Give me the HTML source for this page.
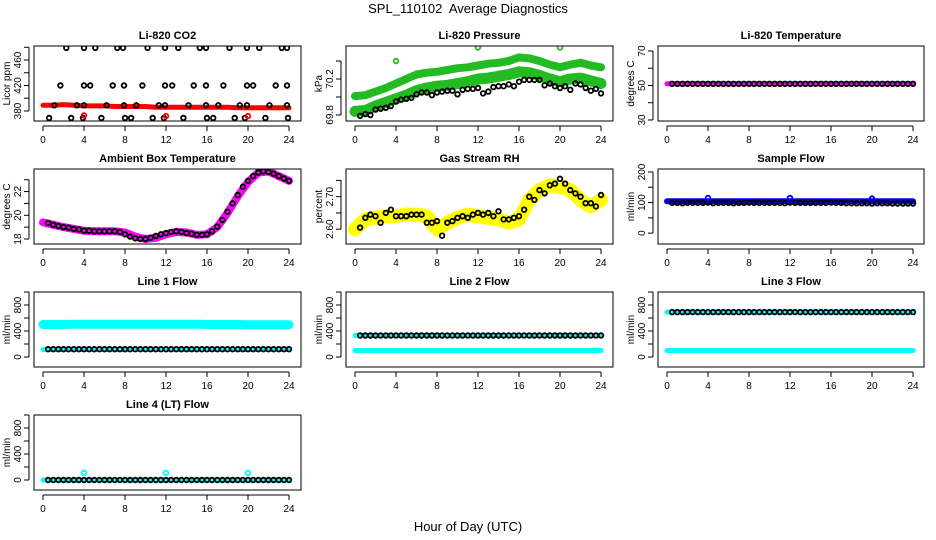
<!DOCTYPE html>
<html><head><meta charset="utf-8">
<style>
body{margin:0;background:#fff;}
svg{display:block;font-family:"Liberation Sans",sans-serif;}
</style></head>
<body>
<svg id="chart" width="936" height="540" viewBox="0 0 936 540">
<rect width="936" height="540" fill="#fff"/>
<text x="468" y="13" text-anchor="middle" font-size="13" xml:space="preserve">SPL_110102  Average Diagnostics</text>
<text x="468" y="531" text-anchor="middle" font-size="13">Hour of Day (UTC)</text>
</svg>
<script>
// shared category arrays
const hours = [0,1,2,3,4,5,6,7,8,9,10,11,12,13,14,15,16,17,18,19,20,21,22,23,24];
const halfHours = [0.5,1,1.5,2,2.5,3,3.5,4,4.5,5,5.5,6,6.5,7,7.5,8,8.5,9,9.5,10,10.5,11,11.5,12,12.5,13,13.5,14,14.5,15,15.5,16,16.5,17,17.5,18,18.5,19,19.5,20,20.5,21,21.5,22,22.5,23,23.5,24];
const xTicks = [0,4,8,12,16,20,24];

// CO2
const co2Band = [389,389,390,389,388,388,388,387,387,387,387,386,386,386,386,386,386,386,386,385,385,385,385,385,385];
const co2BlackT = [2.27,4,5.1,7.25,7.8,10.2,11.9,13.2,15.3,15.9,18.2,19.9,21.1,23.3,23.8,1.7,4,4.6,6.8,7.9,9.7,11.9,12.6,14.7,15.9,17.6,19.9,20.5,22.7,23.8,1.1,3.3,4,6.2,7.9,9.1,11.3,11.9,14.2,15.9,17.1,19.2,19.9,22.1,23.8,0.6,2.75,3.9,5.7,8,8.6,10.7,11.8,13.7,16,16.6,18.7,19.7,21.7,23.9];
const co2BlackV = [479,479,479,479,479,479,479,479,479,479,479,479,479,479,479,420,420,420,420,420,420,420,420,420,420,420,420,420,420,420,389,389,389,389,389,389,389,389,389,389,389,389,389,389,389,369,369,369,369,369,369,369,369,369,369,369,369,369,369,369];
const co2RedT = [4,12,20];
const co2RedV = [373,372,372];

// Pressure
const presUpper = [70.01,70.02,70.06,70.1,70.15,70.2,70.25,70.27,70.28,70.3,70.32,70.33,70.35,70.37,70.38,70.4,70.44,70.43,70.4,70.36,70.33,70.36,70.38,70.35,70.33];
const presLower = [69.84,69.85,69.9,69.94,69.98,70.02,70.07,70.1,70.12,70.13,70.15,70.17,70.2,70.21,70.23,70.25,70.28,70.27,70.24,70.2,70.17,70.2,70.21,70.18,70.15];
const presBlack = [69.79,69.81,69.8,69.86,69.87,69.88,69.9,69.95,69.97,69.98,69.99,70.03,70.05,70.05,70.02,70.05,70.06,70.07,70.07,70.03,70.08,70.09,70.09,70.1,70.04,70.06,70.11,70.12,70.12,70.14,70.12,70.17,70.19,70.19,70.19,70.19,70.13,70.15,70.12,70.1,70.12,70.08,70.15,70.14,70.1,70.07,70.09,70.04];
const presGreenT = [4,12,20];
const presGreenV = [70.4,70.55,70.55];

// Li-820 temperature
const tempBand = [51,51,51,51,51,51,51,51,51,51,51,51,51,51,51,51,51,51,51,51,51,51,51,51,51];
const tempBlack = [51,51,51,51,51,51,51,51,51,51,51,51,51,51,51,51,51,51,51,51,51,51,51,51,51,51,51,51,51,51,51,51,51,51,51,51,51,51,51,51,51,51,51,51,51,51,51,51];

// Ambient box temperature
const ambBand = [19.4,19.2,19.0,18.85,18.7,18.65,18.65,18.65,18.55,18.2,18.0,18.1,18.4,18.6,18.55,18.35,18.4,19.0,20.2,21.6,22.8,23.6,23.7,23.3,22.9];
const ambBlack = [19.35,19.2,19.1,19.0,18.95,18.85,18.8,18.7,18.7,18.65,18.65,18.65,18.65,18.65,18.6,18.4,18.2,18.05,18.0,18.0,18.1,18.25,18.4,18.5,18.6,18.65,18.6,18.5,18.45,18.35,18.35,18.4,18.65,19.05,19.6,20.3,21.0,21.7,22.4,22.9,23.3,23.6,23.7,23.65,23.5,23.3,23.1,22.9];

// Gas stream RH
const rhBand = [2.6,2.63,2.635,2.64,2.64,2.645,2.645,2.64,2.6,2.62,2.635,2.645,2.64,2.635,2.63,2.62,2.63,2.69,2.72,2.735,2.73,2.72,2.69,2.67,2.69];
const rhBlack = [2.605,2.635,2.645,2.64,2.62,2.65,2.66,2.64,2.64,2.64,2.645,2.645,2.645,2.62,2.62,2.625,2.58,2.62,2.625,2.635,2.64,2.635,2.645,2.65,2.645,2.65,2.64,2.655,2.63,2.63,2.635,2.64,2.66,2.7,2.69,2.72,2.71,2.735,2.74,2.755,2.74,2.72,2.71,2.7,2.68,2.68,2.67,2.705];

// Sample flow
const sampBand = [104,104,104,104,104,104,104,104,104,104,104,104,104,104,104,104,104,104,104,104,104,104,104,104,104];
const sampBlack = [99,99,98,99,99,99,99,100,98,99,99,99,98,99,99,100,99,99,99,99,99,99,98,100,99,99,99,99,99,99,99,100,99,99,98,98,98,98,98,97,98,98,98,97,97,97,97,97];
const sampSpikeT = [4,12,20];
const sampSpikeV = [115,115,113];

// Line flows
const l1Hi = [500,500,500,505,505,505,505,505,505,505,505,505,505,505,505,505,500,500,500,500,495,495,495,495,495];
const l1Lo = [115,115,115,115,115,115,115,115,115,115,115,115,115,115,115,115,115,115,115,115,115,115,115,115,115];
const l1Black = [120,120,120,120,120,120,120,120,120,120,120,120,120,120,120,120,120,120,120,120,120,120,120,120,120,120,120,120,120,120,120,120,120,120,120,120,120,120,120,120,120,120,120,120,120,120,120,120];
const l2Hi = [330,330,330,330,330,330,330,330,330,330,330,330,330,330,330,330,330,330,330,330,330,330,330,330,330];
const l2Lo = [100,100,100,100,100,100,100,100,100,100,100,100,100,100,100,100,100,100,100,100,100,100,100,100,100];
const l2Black = [330,330,330,330,330,330,330,330,330,330,330,330,330,330,330,330,330,330,330,330,330,330,330,330,330,330,330,330,330,330,330,330,330,330,330,330,330,330,330,330,330,330,330,330,330,330,330,330];
const l3Hi = [690,690,690,690,690,690,690,690,690,690,690,690,690,690,690,690,690,690,690,690,690,690,690,690,690];
const l3Lo = [100,100,100,100,100,100,100,100,100,100,100,100,100,100,100,100,100,100,100,100,100,100,100,100,100];
const l3Black = [690,690,690,690,690,690,690,690,690,690,690,690,690,690,690,690,690,690,690,690,690,690,690,690,690,690,690,690,690,690,690,690,690,690,690,690,690,690,690,690,690,690,690,690,690,690,690,690];
const l4Band = [0,0,0,0,0,0,0,0,0,0,0,0,0,0,0,0,0,0,0,0,0,0,0,0,0];
const l4Black = [0,0,0,0,0,0,0,0,0,0,0,0,0,0,0,0,0,0,0,0,0,0,0,0,0,0,0,0,0,0,0,0,0,0,0,0,0,0,0,0,0,0,0,0,0,0,0,0];
const l4SpikeT = [4,12,20];
const l4SpikeV = [110,110,110];

const svg = document.getElementById('chart');
const NS = 'http://www.w3.org/2000/svg';
function mk(tag, attrs, parent){
  const e = document.createElementNS(NS, tag);
  for (const k in attrs) e.setAttribute(k, attrs[k]);
  (parent||svg).appendChild(e);
  return e;
}
const colBox = [[34,301],[346,613],[658,924]];
const colX0 = [43,355,667];
const rowY = [46,169,292,415];
const BH = 75;

function panel(cfg){
  const [bx0,bx1] = colBox[cfg.col];
  const by0 = rowY[cfg.row], by1 = by0 + BH;
  const g = mk('g', {});
  
  
  const xs = t => colX0[cfg.col] + t * 246 / 24;
  const ys = v => by1 - (v - cfg.ymin) / (cfg.ymax - cfg.ymin) * BH;
  const clip = 'clip-' + cfg.name;
  const cp = mk('clipPath', {id: clip}, g);
  mk('rect', {x: bx0, y: by0, width: bx1 - bx0, height: BH}, cp);
  const marks = mk('g', {'clip-path': 'url(#' + clip + ')'}, g);
  (cfg.bands||[]).forEach(b => {
    const pts = b.t.map((t,i) => xs(t).toFixed(1) + ',' + ys(b.v[i]).toFixed(1)).join(' ');
    const pl = mk('polyline', {points: pts, fill: 'none', stroke: b.color, 'stroke-width': b.w, 'stroke-linecap': 'round', 'stroke-linejoin': 'round'}, marks);
    
    
  });
  (cfg.points||[]).forEach(p => {
    p.t.forEach((t,i) => {
      const c = mk('circle', {cx: xs(t).toFixed(1), cy: ys(p.v[i]).toFixed(1), r: 2.3, fill: 'none', stroke: p.color, 'stroke-width': 1.8}, marks);
      
      
    });
  });
  const box = mk('rect', {x: bx0, y: by0, width: bx1 - bx0, height: BH, fill: 'none', stroke: '#000', 'stroke-width': 1}, g);
  
  
  const xa = mk('g', {}, g);
  
  
  mk('line', {x1: xs(0), x2: xs(24), y1: by1 + 5, y2: by1 + 5, stroke: '#000'}, xa);
  xTicks.forEach(t => {
    mk('line', {x1: xs(t), x2: xs(t), y1: by1 + 5, y2: by1 + 10, stroke: '#000'}, xa);
    const tx = mk('text', {x: xs(t), y: by1 + 22, 'text-anchor': 'middle', 'font-size': 10}, xa);
    tx.textContent = t;
    
    
  });
  const ya = mk('g', {}, g);
  
  
  const ax = bx0 - 5;
  mk('line', {x1: ax, x2: ax, y1: ys(cfg.ticks[0]), y2: ys(cfg.ticks[cfg.ticks.length-1]), stroke: '#000'}, ya);
  cfg.ticks.forEach(v => {
    mk('line', {x1: ax - 5, x2: ax, y1: ys(v), y2: ys(v), stroke: '#000'}, ya);
  });
  cfg.labels.forEach((v,i) => {
    const tx = mk('text', {x: 0, y: 0, 'text-anchor': 'middle', 'font-size': 10, transform: 'translate(' + (ax - 8) + ',' + ys(v) + ') rotate(-90)'}, ya);
    tx.textContent = cfg.labelText ? cfg.labelText[i] : v;
    
    
  });
  const yl = mk('text', {x: 0, y: 0, 'text-anchor': 'middle', 'font-size': 10, transform: 'translate(' + (bx0 - 24) + ',' + ((by0 + by1) / 2) + ') rotate(-90)'}, g);
  yl.textContent = cfg.ylab;
  
  
  const tt = mk('text', {x: (bx0 + bx1) / 2, y: by0 - 7, 'text-anchor': 'middle', 'font-size': 11, 'font-weight': 'bold'}, g);
  tt.textContent = cfg.title;
  
  
}

panel({name:'co2-panel', col:0, row:0, title:'Li-820 CO2', ylab:'Licor ppm', ymin:364.3, ymax:482,
  ticks:[380,400,420,440,460,480], labels:[380,420,460],
  bands:[{name:'co2-band', t:hours, v:co2Band, color:'#ff0000', w:5}],
  points:[{name:'co2-hourly-point', t:co2BlackT, v:co2BlackV, color:'#000'},{name:'co2-red-point', t:co2RedT, v:co2RedV, color:'#ff0000'}]});
panel({name:'pressure-panel', col:1, row:0, title:'Li-820 Pressure', ylab:'kPa', ymin:69.733, ymax:70.567,
  ticks:[69.8,70.0,70.2,70.4], labels:[69.8,70.2],
  bands:[{name:'pressure-upper-band', t:hours, v:presUpper, color:'#22bb22', w:8},{name:'pressure-lower-band', t:hours, v:presLower, color:'#22bb22', w:11}],
  points:[{name:'pressure-hourly-point', t:halfHours, v:presBlack, color:'#000'},{name:'pressure-green-point', t:presGreenT, v:presGreenV, color:'#22bb22'}]});
panel({name:'li820-temperature-panel', col:2, row:0, title:'Li-820 Temperature', ylab:'degrees C', ymin:29.4, ymax:72.9,
  ticks:[30,40,50,60,70], labels:[30,50,70],
  bands:[{name:'temperature-band', t:hours, v:tempBand, color:'#ff00ff', w:5}],
  points:[{name:'temperature-hourly-point', t:halfHours, v:tempBlack, color:'#000'}]});
panel({name:'ambient-temperature-panel', col:0, row:1, title:'Ambient Box Temperature', ylab:'degrees C', ymin:17.58, ymax:23.9,
  ticks:[18,19,20,21,22,23], labels:[18,20,22],
  bands:[{name:'ambient-band', t:hours, v:ambBand, color:'#ff00ff', w:8}],
  points:[{name:'ambient-hourly-point', t:halfHours, v:ambBlack, color:'#000'}]});
panel({name:'rh-panel', col:1, row:1, title:'Gas Stream RH', ylab:'percent', ymin:2.5545, ymax:2.785,
  ticks:[2.60,2.65,2.70,2.75], labels:[2.60,2.70], labelText:['2.60','2.70'],
  bands:[{name:'rh-band', t:hours, v:rhBand, color:'#ffff00', w:14}],
  points:[{name:'rh-hourly-point', t:halfHours, v:rhBlack, color:'#000'}]});
panel({name:'sample-flow-panel', col:2, row:1, title:'Sample Flow', ylab:'ml/min', ymin:-35.5, ymax:209.7,
  ticks:[0,50,100,150,200], labels:[0,100,200],
  bands:[{name:'sample-flow-band', t:hours, v:sampBand, color:'#0000ee', w:6}],
  points:[{name:'sample-flow-hourly-point', t:halfHours, v:sampBlack, color:'#000'},{name:'sample-flow-spike', t:sampSpikeT, v:sampSpikeV, color:'#0000ee'}]});
const flowTicks = [0,200,400,600,800,1000];
panel({name:'line1-flow-panel', col:0, row:2, title:'Line 1 Flow', ylab:'ml/min', ymin:-154, ymax:1000,
  ticks:flowTicks, labels:[0,400,800],
  bands:[{name:'line1-high-band', t:hours, v:l1Hi, color:'#00ffff', w:9},{name:'line1-low-band', t:hours, v:l1Lo, color:'#00ffff', w:5}],
  points:[{name:'line1-hourly-point', t:halfHours, v:l1Black, color:'#000'}]});
panel({name:'line2-flow-panel', col:1, row:2, title:'Line 2 Flow', ylab:'ml/min', ymin:-154, ymax:1000,
  ticks:flowTicks, labels:[0,400,800],
  bands:[{name:'line2-high-band', t:hours, v:l2Hi, color:'#00ffff', w:5},{name:'line2-low-band', t:hours, v:l2Lo, color:'#00ffff', w:5}],
  points:[{name:'line2-hourly-point', t:halfHours, v:l2Black, color:'#000'}]});
panel({name:'line3-flow-panel', col:2, row:2, title:'Line 3 Flow', ylab:'ml/min', ymin:-154, ymax:1000,
  ticks:flowTicks, labels:[0,400,800],
  bands:[{name:'line3-high-band', t:hours, v:l3Hi, color:'#00ffff', w:5},{name:'line3-low-band', t:hours, v:l3Lo, color:'#00ffff', w:5}],
  points:[{name:'line3-hourly-point', t:halfHours, v:l3Black, color:'#000'}]});
panel({name:'line4-flow-panel', col:0, row:3, title:'Line 4 (LT) Flow', ylab:'ml/min', ymin:-154, ymax:1000,
  ticks:flowTicks, labels:[0,400,800],
  bands:[{name:'line4-band', t:hours, v:l4Band, color:'#00ffff', w:5}],
  points:[{name:'line4-hourly-point', t:halfHours, v:l4Black, color:'#000'},{name:'line4-spike', t:l4SpikeT, v:l4SpikeV, color:'#00ffff'}]});
</script>
</body></html>
